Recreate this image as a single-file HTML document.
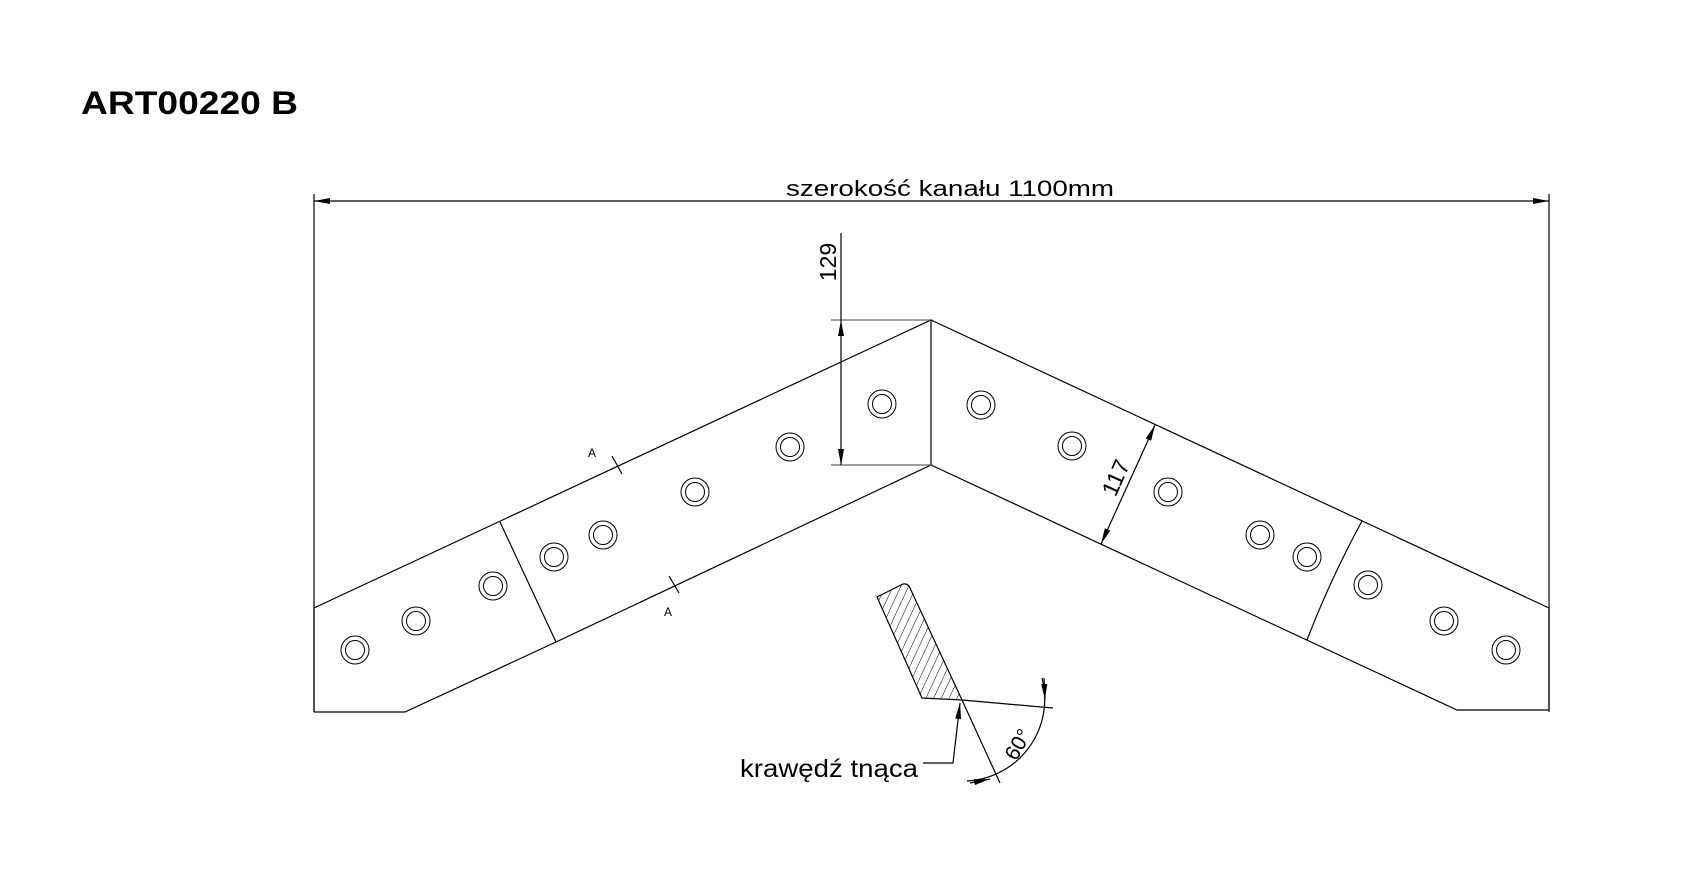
<!DOCTYPE html>
<html><head><meta charset="utf-8"><style>
html,body{margin:0;padding:0;background:#fff;}
svg{display:block;}
text{font-family:"Liberation Sans",sans-serif;fill:#000;}
</style></head><body>
<svg width="1683" height="876" viewBox="0 0 1683 876" xmlns="http://www.w3.org/2000/svg">
<defs>
<pattern id="h" patternUnits="userSpaceOnUse" width="7" height="7" patternTransform="rotate(25)">
<line x1="0" y1="0" x2="0" y2="7" stroke="#000" stroke-width="1"/>
</pattern>
<marker id="a" viewBox="0 0 16 6" refX="16" refY="3" markerWidth="16" markerHeight="6" markerUnits="userSpaceOnUse" orient="auto-start-reverse">
<path d="M0,0 L16,3 L0,6 z" fill="#000"/>
</marker>
</defs>
<text x="81" y="114" font-size="32" font-weight="bold" textLength="217" lengthAdjust="spacingAndGlyphs">ART00220 B</text>

<g stroke="#000" stroke-width="1.2" fill="none">
<line x1="314" y1="194" x2="314" y2="712"/>
<line x1="1549" y1="194" x2="1549" y2="712"/>
<line x1="314" y1="201" x2="1549" y2="201" marker-start="url(#a)" marker-end="url(#a)"/>
<polyline points="314,712 314,608 931,320 931,465 556,642 405,712 314,712"/>
<line x1="500" y1="522" x2="556" y2="642"/>
<polyline points="931,320 1549,608 1549,710 1457,710 931,465"/>
<path d="M1362,521 Q1330,580 1307,640"/>
<line x1="831" y1="320" x2="931" y2="320" stroke="#666"/>
<line x1="831" y1="465" x2="931" y2="465" stroke="#666"/>
<line x1="841" y1="233" x2="841" y2="320"/>
<line x1="841" y1="320" x2="841" y2="465" marker-start="url(#a)" marker-end="url(#a)"/>
<line x1="1155" y1="425" x2="1101" y2="544" marker-start="url(#a)" marker-end="url(#a)"/>
<line x1="612" y1="456" x2="622" y2="474"/>
<line x1="669" y1="576" x2="679" y2="593"/>
<path d="M877,597 L903,584 Q908,583 910,588 L962,700 L922,698 Z" fill="url(#h)"/>
<line x1="962" y1="700" x2="1053" y2="708"/>
<line x1="962" y1="700" x2="1000" y2="783"/>
<path d="M1042,678 A82,82 0 0 1 967,781" />
<line x1="1044" y1="678" x2="1045" y2="700" marker-end="url(#a)"/>
<line x1="970" y1="783" x2="990" y2="779" marker-end="url(#a)"/>
<polyline points="923,763 953,763 960,703" marker-end="url(#a)"/>
</g>
<g fill="none" stroke="#000" stroke-width="1">
<circle cx="882" cy="404" r="14"/><circle cx="882" cy="404" r="9.5"/>
<circle cx="790" cy="447" r="14"/><circle cx="790" cy="447" r="9.5"/>
<circle cx="695" cy="492" r="14"/><circle cx="695" cy="492" r="9.5"/>
<circle cx="603" cy="535" r="14"/><circle cx="603" cy="535" r="9.5"/>
<circle cx="554" cy="557" r="14"/><circle cx="554" cy="557" r="9.5"/>
<circle cx="493" cy="586" r="14"/><circle cx="493" cy="586" r="9.5"/>
<circle cx="416" cy="621" r="14"/><circle cx="416" cy="621" r="9.5"/>
<circle cx="355" cy="650" r="14"/><circle cx="355" cy="650" r="9.5"/>
<circle cx="981" cy="405" r="14"/><circle cx="981" cy="405" r="9.5"/>
<circle cx="1072" cy="446" r="14"/><circle cx="1072" cy="446" r="9.5"/>
<circle cx="1168" cy="492" r="14"/><circle cx="1168" cy="492" r="9.5"/>
<circle cx="1260" cy="535" r="14"/><circle cx="1260" cy="535" r="9.5"/>
<circle cx="1307" cy="557" r="14"/><circle cx="1307" cy="557" r="9.5"/>
<circle cx="1368" cy="585" r="14"/><circle cx="1368" cy="585" r="9.5"/>
<circle cx="1444" cy="621" r="14"/><circle cx="1444" cy="621" r="9.5"/>
<circle cx="1506" cy="650" r="14"/><circle cx="1506" cy="650" r="9.5"/>
</g>
<text x="950" y="196" font-size="22" text-anchor="middle" textLength="328" lengthAdjust="spacingAndGlyphs">szerokość kanału 1100mm</text>
<text transform="translate(836,262) rotate(-90)" font-size="23" text-anchor="middle">129</text>
<text transform="translate(1123,481) rotate(-66)" font-size="23" text-anchor="middle">117</text>
<text x="592" y="457" font-size="12" text-anchor="middle">A</text>
<text x="668" y="616" font-size="12" text-anchor="middle">A</text>
<text x="918" y="777" font-size="25" text-anchor="end" textLength="178" lengthAdjust="spacingAndGlyphs">krawędź tnąca</text>
<text transform="translate(1024,748) rotate(-60)" font-size="21" text-anchor="middle">60°</text>
</svg>
</body></html>
